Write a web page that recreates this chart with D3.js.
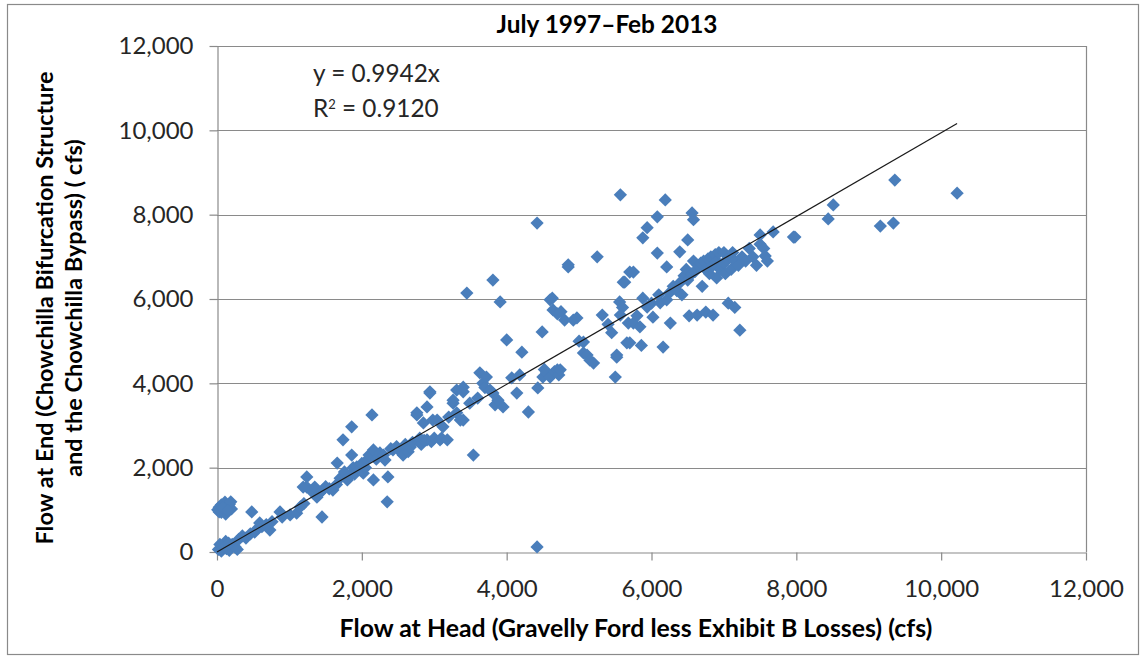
<!DOCTYPE html>
<html><head><meta charset="utf-8">
<script src="https://cdn.jsdelivr.net/npm/d3@7"></script>
<style>html,body{margin:0;padding:0;background:#fff;}svg{display:block;}</style>
</head><body>
<svg id="c" width="1140" height="659"></svg>
<script>
const titleText = "July 1997\u2013Feb 2013";
const xTitle = "Flow at Head (Gravelly Ford less Exhibit B Losses) (cfs)";
const yTitle1 = "Flow at End (Chowchilla Bifurcation Structure";
const yTitle2 = "and the Chowchilla Bypass) ( cfs)";
const xTicks = [0,2000,4000,6000,8000,10000,12000];
const yTicks = [0,2000,4000,6000,8000,10000,12000];
const slope = 0.9942;
const r2 = "0.9120";
const trendX = [0, 10220];
const flowHead = [
20,60,90,130,170,210,250,280,120,300,350,400,460,520,560,620,680,40,80,160,
10,30,60,90,110,140,170,200,60,120,190,30,80,150,
480,590,730,760,870,900,1010,1100,1150,1200,1240,1190,1240,1300,1350,1380,1420,1460,1450,1500,1550,1600,1650,1660,
1700,1740,1760,1800,1830,1860,1860,1880,1900,1930,1960,2000,2020,2050,2070,2100,2140,2160,2160,2200,2250,2300,2320,2350,2360,2400,2430,2480,2520,2570,2600,2640,2670,2700,2760,2760,2800,2820,2850,2860,2900,2900,2940,2940,2960,2980,3000,3040,3080,3100,3120,3180,3200,3260,3260,3310,3310,3360,3400,3400,3400,3450,3490,3540,3600,3630,3670,3700,3720,3770,3810,3810,3840,3880,3910,3950,
4000,4070,4140,4180,4210,4300,4420,4420,4430,4490,4500,4520,4550,4600,4600,4630,4640,4660,4700,4700,4720,4740,4750,4800,4850,4850,4920,4970,5000,5060,5060,5110,5150,5200,5250,5320,5400,5450,5500,5520,5520,5560,5570,5570,5600,5610,5630,5660,5680,5700,5700,5750,5750,5800,5840,5860,5880,5880,5940,5940,6000,6020,6080,6080,6100,6120,6160,6190,6210,6210,6250,6260,6300,6350,6390,6400,6420,6450,6480,6500,6500,6520,6560,6560,6580,6580,6600,6630,6650,6680,6700,6720,6750,6750,6780,6800,6820,6850,6850,6880,6900,6900,6930,6950,6980,7000,7000,7020,7050,7060,7080,7100,7120,7150,7150,7200,7220,7250,7300,7350,7400,7450,7500,7500,7550,7570,7600,7680,7960,7980,8440,8510,9160,9340,9360,10220
];
const flowEnd = [
60,20,130,80,40,180,120,60,250,300,380,330,430,470,560,600,650,180,90,210,
1000,1060,1120,1000,1180,1060,1130,1020,940,900,1190,950,1050,980,
950,690,520,720,950,830,880,920,1070,1150,1540,1540,1780,1450,1540,1300,1400,1470,830,1550,1500,1470,1600,2110,
1750,2660,1900,1710,1800,2970,2300,2000,1850,2020,1950,2100,1870,2000,2180,2300,3250,1710,2420,2200,2350,2300,2180,1190,1780,2450,2420,2500,2400,2300,2550,2380,2490,2600,3250,3300,2700,2550,3060,2650,2660,3440,3770,3800,2620,3130,2700,3130,2660,2700,2970,2660,3200,3530,3600,3300,3840,3130,3800,3910,3130,6140,3530,2300,3650,4250,4000,3900,4150,3840,6450,3770,3490,3600,5930,3440,
5030,4130,3770,4200,4740,3320,7800,120,3890,5220,4150,4330,4250,4150,5980,6020,5740,4280,4320,5650,4200,4320,5700,5500,6760,6810,5500,5550,5000,4980,4720,4670,4550,4480,7000,5620,5400,5200,4150,4620,4670,5930,8470,5620,5800,6400,6400,4960,5430,6640,4960,5430,6640,5600,5340,4900,6020,7450,7690,5810,5900,5570,7950,7090,6100,5910,4860,8350,6760,5980,6150,5430,6300,6200,7120,6400,6100,6550,6700,7400,6450,5600,8040,6600,7880,6900,6650,5620,6800,6850,6300,6900,6700,5690,6950,6600,7000,5620,6800,7050,6500,6900,7100,6700,6800,6850,7100,6600,6950,5900,7000,6700,7100,6900,5800,6800,5260,7000,6900,7200,7000,6800,7520,7300,7200,7020,6900,7590,7470,7470,7900,8230,7730,7800,8820,8510
];

const svg = d3.select("#c");
const x = d3.scaleLinear().domain([0,12000]).range([217,1086]);
const y = d3.scaleLinear().domain([0,12000]).range([552,46]);
const grid = "#8a8a8a";
const font = "Lato, 'Open Sans', sans-serif";

function fit(sel, target){
  const s = +sel.attr("font-size");
  const w = sel.node().getComputedTextLength();
  sel.attr("font-size", s*target/w);
  return s*target/w;
}

svg.append("rect").attr("x",7.5).attr("y",4.5).attr("width",1131).attr("height",650)
  .attr("fill","#fff").attr("stroke","#8a8a8a").attr("stroke-width",1.2);

// measure tick label size
const probe = svg.append("text").attr("font-family",font).attr("font-size",20).text("12,000");
const tickSize = fit(probe,75);
probe.remove();

// gridlines
svg.append("g").selectAll("line").data(yTicks.slice(1)).join("line")
  .attr("x1",x(0)).attr("x2",x(12000))
  .attr("y1",d=>Math.round(y(d))+0.5).attr("y2",d=>Math.round(y(d))+0.5)
  .attr("stroke",grid).attr("stroke-width",1.2);
svg.append("line").attr("x1",Math.round(x(12000))+0.5).attr("x2",Math.round(x(12000))+0.5)
  .attr("y1",y(12000)).attr("y2",y(0)).attr("stroke",grid).attr("stroke-width",1.2);

const fmt = d3.format(",");
const xa = svg.append("g").attr("transform",`translate(0,${Math.round(y(0))+0.5})`)
  .call(d3.axisBottom(x).tickValues(xTicks).tickFormat(fmt).tickSize(8).tickSizeOuter(0).tickPadding(19));
const ya = svg.append("g").attr("transform",`translate(${Math.round(x(0))+0.5},0)`)
  .call(d3.axisLeft(y).tickValues(yTicks).tickFormat(fmt).tickSize(8).tickSizeOuter(0).tickPadding(16));
[xa,ya].forEach(a=>{
  a.selectAll("path,line").attr("stroke",grid).attr("stroke-width",1.2);
  a.selectAll("text").attr("font-family",font).attr("font-size",tickSize).attr("fill","#262626");
});

// points
const diamond = d3.symbol().type(d3.symbolSquare).size(88);
svg.append("g").selectAll("path").data(flowHead.map((v,i)=>[v,flowEnd[i]])).join("path")
  .attr("d",diamond)
  .attr("transform",d=>`translate(${x(d[0])},${y(d[1])}) rotate(45)`)
  .attr("fill","#4A7EBB");

// trendline
svg.append("line").attr("x1",x(trendX[0])).attr("y1",y(trendX[0]*slope))
  .attr("x2",x(trendX[1])).attr("y2",y(trendX[1]*slope))
  .attr("stroke","#1a1a1a").attr("stroke-width",1.2);

// equation
const eq = svg.append("text").attr("x",313).attr("y",82).attr("font-family",font).attr("font-size",20).attr("fill","#262626")
  .text("y = "+slope+"x");
const eqSize = fit(eq,127);
const r = svg.append("text").attr("x",313).attr("y",117).attr("font-family",font).attr("font-size",eqSize).attr("fill","#262626");
r.append("tspan").text("R");
r.append("tspan").attr("dy",-8).attr("font-size",13).text("2");
r.append("tspan").attr("dy",8).text(" = "+r2);

// titles
const t = svg.append("text").attr("x",607).attr("y",33).attr("text-anchor","middle")
  .attr("font-family",font).attr("font-weight","bold").attr("font-size",17).attr("fill","#000").text(titleText);
fit(t,221);
const xt = svg.append("text").attr("x",636).attr("y",637).attr("text-anchor","middle")
  .attr("font-family",font).attr("font-weight","bold").attr("font-size",19).attr("fill","#000").text(xTitle);
fit(xt,593);
const yt1 = svg.append("text").attr("transform","translate(53,308) rotate(-90)").attr("text-anchor","middle")
  .attr("font-family",font).attr("font-weight","bold").attr("font-size",19).attr("fill","#000").text(yTitle1);
const ySize = fit(yt1,473);
svg.append("text").attr("transform","translate(82,308) rotate(-90)").attr("text-anchor","middle")
  .attr("font-family",font).attr("font-weight","bold").attr("font-size",ySize).attr("fill","#000").text(yTitle2);
</script>
</body></html>
